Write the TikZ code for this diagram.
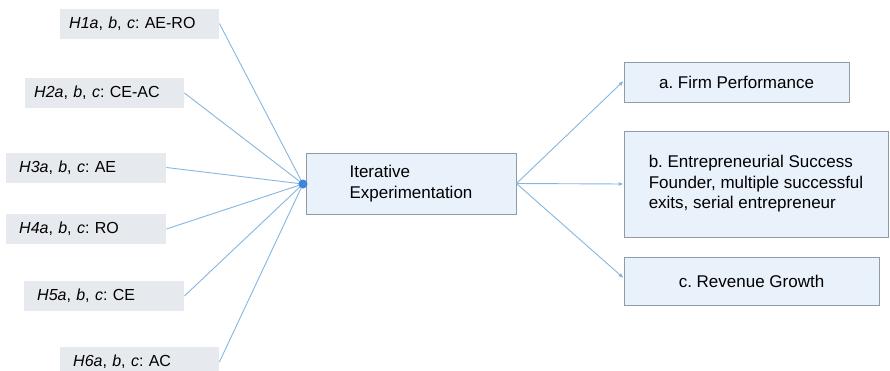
\documentclass[tikz,border=0pt]{standalone}
\usepackage{fontspec}
\setmainfont{Liberation Sans}
\usetikzlibrary{arrows.meta}
\definecolor{hfill}{HTML}{E6E9ED}
\definecolor{bfill}{HTML}{E9F1FB}
\definecolor{bdraw}{HTML}{8E9BA8}
\definecolor{lcol}{HTML}{86B6DF}
\definecolor{dotcol}{HTML}{3D85D9}
\frenchspacing
\tikzset{
  hbox/.style={fill=hfill, draw=none, anchor=west, align=left, minimum height=30pt,
    font=\fontsize{16}{19}\selectfont},
  bbox/.style={fill=bfill, draw=bdraw, line width=0.9pt, align=left,
    font=\fontsize{17}{20.5}\selectfont},
  link/.style={draw=lcol, line width=0.9pt},
  arr/.style={draw=lcol, line width=0.9pt, -{Latex[length=5pt,width=4pt,fill=dotcol]}},
}
\begin{document}
\begin{tikzpicture}[x=1pt,y=-1pt]
\useasboundingbox (0,0) rectangle (890,370);
\clip (0,0) rectangle (890,370);
% left hypothesis boxes
\node[hbox, inner xsep=9pt, text width=141pt] (h1) at (60,23.5) {\textit{H1a}, \textit{b}, \textit{c}: AE-RO};
\node[hbox, inner xsep=9pt, text width=141pt] (h2) at (25,93) {\textit{H2a}, \textit{b}, \textit{c}: CE-AC};
\node[hbox, inner xsep=13pt, text width=134pt] (h3) at (6,167.5) {\textit{H3a}, \textit{b}, \textit{c}: AE};
\node[hbox, inner xsep=13pt, text width=134pt] (h4) at (6,229) {\textit{H4a}, \textit{b}, \textit{c}: RO};
\node[hbox, inner xsep=13pt, text width=134pt] (h5) at (24,296) {\textit{H5a}, \textit{b}, \textit{c}: CE};
\node[hbox, inner xsep=13pt, text width=133pt] (h6) at (60,362) {\textit{H6a}, \textit{b}, \textit{c}: AC};
% central box
\node[bbox, minimum width=210pt, minimum height=61pt] (ie) at (411,183.5) {Iterative\\Experimentation};
\coordinate (dot) at (303,184);
% outcome boxes
\node[bbox, minimum width=225pt, minimum height=40pt] (a) at (736.5,82) {a. Firm Performance};
\node[bbox, minimum width=264pt, minimum height=106pt] (b) at (756,184) {b. Entrepreneurial Success\\Founder, multiple successful\\exits, serial entrepreneur};
\node[bbox, minimum width=255pt, minimum height=48pt] (c) at (751.5,281) {c. Revenue Growth};
% links
\foreach \n in {h1,h2,h3,h4,h5,h6} \draw[link] (\n.east) -- (dot);
\fill[dotcol] (dot) circle (4.5pt);
\draw[arr] (ie.east) -- ([yshift=1pt]a.west);
\draw[arr] (ie.east) -- (b.west);
\draw[arr] (ie.east) -- ([yshift=3pt]c.west);
\end{tikzpicture}
\end{document}
